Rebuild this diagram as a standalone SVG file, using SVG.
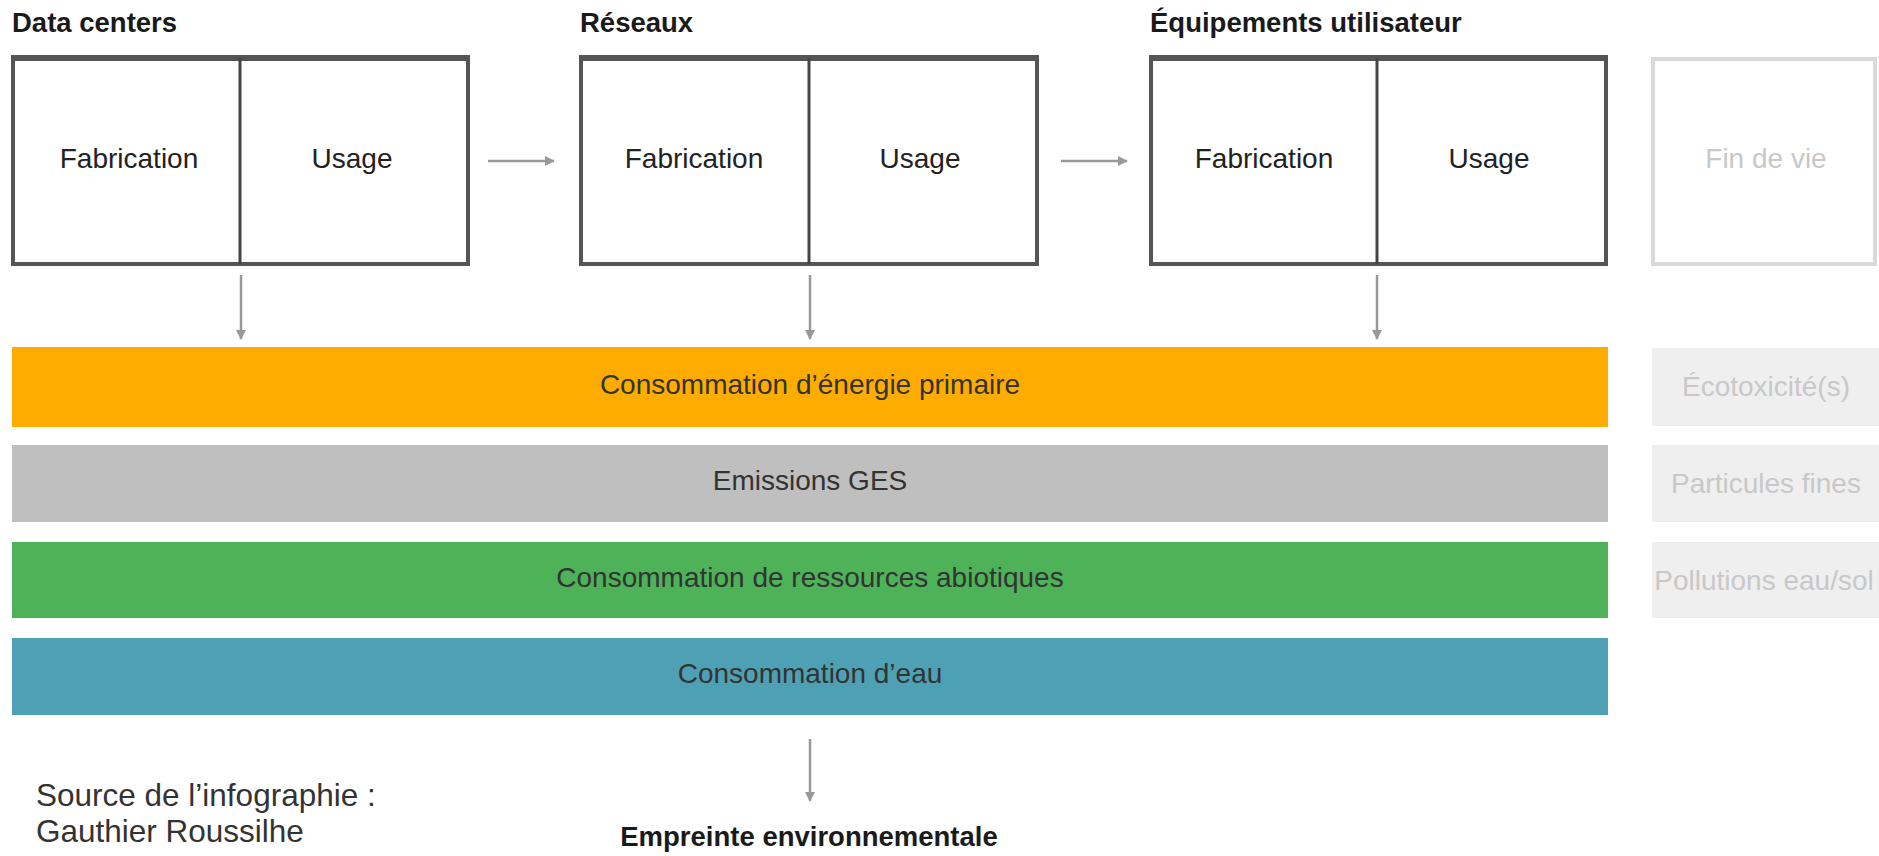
<svg xmlns="http://www.w3.org/2000/svg" width="1879" height="856" viewBox="0 0 1879 856">
<style>
text{font-family:"Liberation Sans",Arial,sans-serif;}
.hdr{font-size:27.5px;font-weight:bold;fill:#1a1a1a;}
.cell{font-size:28px;fill:#222;text-anchor:middle;}
.box{fill:#fff;stroke:#555;stroke-width:4;}
.top{fill:#555;}
.div{stroke:#444;stroke-width:3;}
.bar{font-size:28px;fill:#333;text-anchor:middle;}
.ghost{font-size:28px;fill:#c8c8c8;text-anchor:middle;}
.gbox{fill:#efefef;}
.conn{stroke:#999;stroke-width:2.5;fill:none;marker-end:url(#ah);}
.src{font-size:31.5px;fill:#333;}
</style>
<defs>
<marker id="ah" viewBox="0 0 10 10" refX="9" refY="5" markerWidth="4" markerHeight="4" orient="auto" markerUnits="strokeWidth">
<path d="M0,0 L10,5 L0,10 z" fill="#999"/>
</marker>
</defs>
<rect width="1879" height="856" fill="#fff"/>

<g id="datacenters">
<text class="hdr" x="12" y="32">Data centers</text>
<rect class="box" x="13" y="58" width="455" height="206"/>
<rect class="top" x="11" y="55" width="459" height="6"/>
<line class="div" x1="240" y1="58" x2="240" y2="264"/>
<text class="cell" x="129" y="168">Fabrication</text>
<text class="cell" x="352" y="168">Usage</text>
</g>

<g id="reseaux">
<text class="hdr" x="580" y="32">Réseaux</text>
<rect class="box" x="581" y="58" width="456" height="206"/>
<rect class="top" x="579" y="55" width="460" height="6"/>
<line class="div" x1="809" y1="58" x2="809" y2="264"/>
<text class="cell" x="694" y="168">Fabrication</text>
<text class="cell" x="920" y="168">Usage</text>
</g>

<g id="equipements">
<text class="hdr" x="1150" y="32">Équipements utilisateur</text>
<rect class="box" x="1151" y="58" width="455" height="206"/>
<rect class="top" x="1149" y="55" width="459" height="6"/>
<line class="div" x1="1377" y1="58" x2="1377" y2="264"/>
<text class="cell" x="1264" y="168">Fabrication</text>
<text class="cell" x="1489" y="168">Usage</text>
</g>

<g id="findevie">
<rect x="1653" y="59" width="222" height="205" fill="#fff" stroke="#d9d9d9" stroke-width="4"/>
<text class="ghost" x="1766" y="168">Fin de vie</text>
</g>

<g id="energie">
<rect x="12" y="347" width="1596" height="80" fill="#fead00"/>
<text class="bar" x="810" y="394">Consommation d’énergie primaire</text>
</g>
<g id="ges">
<rect x="12" y="445" width="1596" height="77" fill="#bfbfbf"/>
<text class="bar" x="810" y="490">Emissions GES</text>
</g>
<g id="abiotiques">
<rect x="12" y="542" width="1596" height="76" fill="#4eb258"/>
<text class="bar" x="810" y="587">Consommation de ressources abiotiques</text>
</g>
<g id="eau">
<rect x="12" y="638" width="1596" height="77" fill="#4ea1b5"/>
<text class="bar" x="810" y="683">Consommation d’eau</text>
</g>

<g id="ecotox">
<rect class="gbox" x="1652" y="348" width="227" height="78"/>
<text class="ghost" x="1766" y="396">Écotoxicité(s)</text>
</g>
<g id="particules">
<rect class="gbox" x="1652" y="445" width="227" height="77"/>
<text class="ghost" x="1766" y="493">Particules fines</text>
</g>
<g id="pollutions">
<rect class="gbox" x="1652" y="542" width="227" height="76"/>
<text class="ghost" x="1764" y="590">Pollutions eau/sol</text>
</g>

<g id="empreinte">
<text x="809" y="846" font-size="27.5" font-weight="bold" fill="#1a1a1a" text-anchor="middle">Empreinte environnementale</text>
</g>

<g id="source">
<text class="src" x="36" y="806">Source de l’infographie :</text>
<text class="src" x="36" y="842">Gauthier Roussilhe</text>
</g>

<g id="connectors">
<line class="conn" x1="488" y1="161" x2="554" y2="161"/>
<line class="conn" x1="1061" y1="161" x2="1127" y2="161"/>
<line class="conn" x1="241" y1="275" x2="241" y2="339"/>
<line class="conn" x1="810" y1="275" x2="810" y2="339"/>
<line class="conn" x1="1377" y1="275" x2="1377" y2="339"/>
<line class="conn" x1="810" y1="739" x2="810" y2="801"/>
</g>
</svg>
